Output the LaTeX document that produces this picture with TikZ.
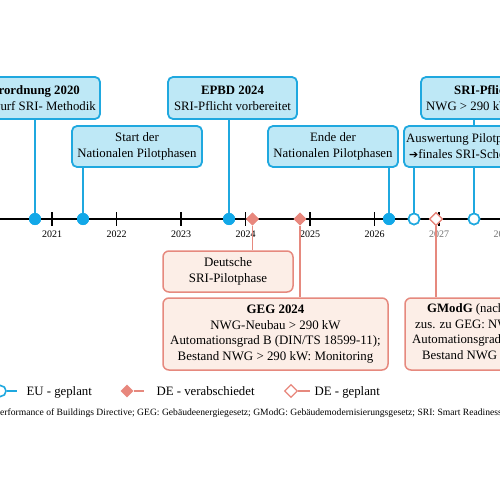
\documentclass[tikz,border=0pt]{standalone}
\usepackage{fontspec}
\setmainfont{Liberation Serif}
\newfontfamily\symfont{DejaVu Sans}
\usetikzlibrary{shapes.geometric}
\definecolor{eub}{HTML}{1FA8DF}
\definecolor{euf}{HTML}{BEE8F6}
\definecolor{eum}{HTML}{12A8E8}
\definecolor{deb}{HTML}{E6897E}
\definecolor{def}{HTML}{FCEEE7}
\definecolor{dem}{HTML}{E8877D}
\begin{document}
\begin{tikzpicture}[x=1pt,y=-1pt,
  boxtxt/.style={font=\fontsize{12.8}{16}\selectfont},
  eubox/.style={draw=eub,line width=1.8pt,fill=euf,rounded corners=5pt,inner sep=0pt,align=center,boxtxt},
  debox/.style={draw=deb,line width=1.5pt,fill=def,rounded corners=6pt,inner sep=0pt,align=center,boxtxt,font=\fontsize{12.9}{15.5}\selectfont},
  euline/.style={draw=eub,line width=1.8pt},
  deline/.style={draw=deb,line width=1.5pt},
  eufull/.style={circle,fill=eum,minimum size=12pt,inner sep=0pt},
  euopen/.style={circle,draw=eub,line width=1.6pt,fill=white,minimum size=11pt,inner sep=0pt},
  defull/.style={diamond,fill=dem,minimum size=13pt,inner sep=0pt},
  deopen/.style={diamond,draw=dem,line width=1.2pt,fill=white,minimum size=13pt,inner sep=0pt},
  yr/.style={font=\fontsize{10}{12}\selectfont,anchor=base},
  lg/.style={font=\fontsize{12.8}{15}\selectfont,anchor=base west},
  tt/.style={boxtxt,anchor=base west,inner sep=0pt},
  ttr/.style={boxtxt,anchor=base east,inner sep=0pt},
  fnt/.style={anchor=base west,inner sep=0pt,font=\fontsize{9.6}{11}\selectfont}
]
\useasboundingbox (0,0) rectangle (500,500);
\clip (0,0) rectangle (500,500);
\fill[white] (0,0) rectangle (500,500);

% timeline
\draw[line width=1.4pt] (0,219) coordinate (tl0) -- (500,219) coordinate (tl1);
\foreach \x/\y in {52/2021,116.5/2022,181/2023,245.5/2024,310/2025,374.5/2026}{
  \draw[line width=1.3pt] (\x,212) -- (\x,226);
  \node[yr] at (\x,237) {\y};
}
\draw[line width=1.3pt] (439,212) -- (439,226);
\node[yr,text=black!55] at (439,237) {2027};
\draw[line width=1.3pt] (503.5,212) -- (503.5,226);
\node[yr,text=black!55] at (503.5,237) {2028};

% markers
\node[eufull] (m1) at (35,219) {};
\node[eufull] (m2) at (83,219) {};
\node[eufull] (m3) at (229,219) {};
\node[defull] (d1) at (252.5,219) {};
\node[defull] (d2) at (300,219) {};
\node[eufull] (m4) at (389,219) {};
\node[euopen] (m5) at (414,219) {};
\node[deopen] (d3) at (436,219) {};
\node[euopen] (m6) at (474,219) {};

% EU boxes
\node[eubox,minimum width=180pt,minimum height=42pt] (bV) at (10,98) {};
\node[ttr,font=\fontsize{12.8}{16}\selectfont\bfseries] (tV1) at (80,95) {Delegierte Verordnung 2020};
\node[ttr] (tV2) at (96,110.7) {Entwurf SRI- Methodik};

\node[eubox,minimum width=129pt,minimum height=42pt] (bE) at (232.5,98) {\textbf{EPBD 2024}\\SRI-Pflicht vorbereitet};

\node[eubox,minimum width=160pt,minimum height=42pt] (bS) at (501,98) {};
\node[tt,font=\fontsize{12.8}{16}\selectfont\bfseries] (tS1) at (454,95) {SRI-Pflicht};
\node[tt] (tS2) at (426,110.7) {NWG > 290 kW};

\draw[euline] (m1) -- (m1 |- bV.south);
\draw[euline] (m3) -- (m3 |- bE.south);
\draw[euline] (m6) -- (m6 |- bS.south);

\node[eubox,minimum width=130pt,minimum height=41pt] (bSt) at (137,146.5) {Start der\\Nationalen Pilotphasen};
\node[eubox,minimum width=130pt,minimum height=41pt] (bEn) at (333,146.5) {Ende der\\Nationalen Pilotphasen};
\node[eubox,minimum width=180pt,minimum height=41pt] (bA) at (494,146.5) {};
\node[tt] (tA1) at (406,142.7) {Auswertung Pilotphasen};
\node[tt] (tA2) at (409,158.7) {{\symfont\fontsize{11}{16}\selectfont ➔}finales SRI-Schema};

\draw[euline] (m2) -- (m2 |- bSt.south);
\draw[euline] (m4) -- (m4 |- bEn.south);
\draw[euline] (m5) -- (m5 |- bA.south);

% DE boxes
\node[debox,minimum width=130pt,minimum height=41pt] (bD) at (228,271.5) {Deutsche\\SRI-Pilotphase};
\node[debox,minimum width=225pt,minimum height=72pt] (bG) at (275.5,334) {\textbf{GEG 2024}\\NWG-Neubau > 290 kW\\Automationsgrad B (DIN/TS 18599-11);\\Bestand NWG > 290 kW: Monitoring};
\node[debox,minimum width=160pt,minimum height=72pt] (bM) at (485,334) {};
\node[tt] (tM1) at (427,312.7) {\textbf{GModG} (nach Entwurf)};
\node[tt] (tM2) at (415,328) {zus. zu GEG: NWG-Bestand};
\node[tt] (tM3) at (412,343.5) {Automationsgrad B};
\node[tt] (tM4) at (422,359) {Bestand NWG > 290 kW};

\draw[deline] (d1) -- (d1 |- bD.north);
\draw[deline] (d2) -- (d2 |- bG.north);
\draw[deline] (d3) -- (d3 |- bM.north);

% markers on top
\node[eufull] at (m1) {};
\node[eufull] at (m2) {};
\node[eufull] at (m3) {};
\node[defull] at (d1) {};
\node[defull] at (d2) {};
\node[eufull] at (m4) {};
\node[euopen] at (m5) {};
\node[deopen] at (d3) {};
\node[euopen] at (m6) {};

% legend
\node[euopen] (l1) at (0.5,391) {};
\coordinate (l1e) at (17,391);
\draw[euline,line width=1.5pt] (l1) -- (l1e);
\node[lg] (l1t) at (23,395) {EU - geplant};
\node[defull] (l2) at (127,391) {};
\coordinate (l2e) at (144,391);
\draw[deline] (l2) -- (l2e);
\node[lg] (l2t) at (153,395) {DE - verabschiedet};
\node[deopen] (l3) at (291,391) {};
\coordinate (l3e) at (310,391);
\draw[deline] (l3) -- (l3e);
\node[lg] (l3t) at (311,395) {DE - geplant};

% footnote
\node[fnt] (fn) at (0,415) {\llap{EPBD: Energy P}erformance of Buildings Directive; GEG: Gebäudeenergiegesetz; GModG: Gebäudemodernisierungsgesetz; SRI: Smart Readiness Indicator};
\end{tikzpicture}
\end{document}
